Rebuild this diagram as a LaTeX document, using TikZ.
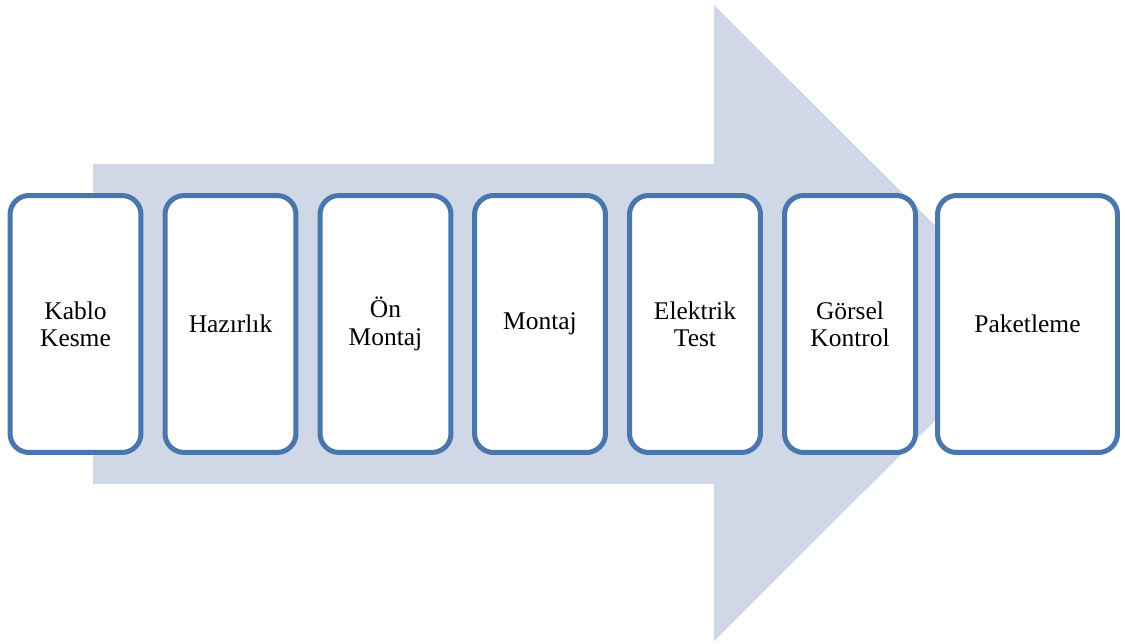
\documentclass[tikz,border=0pt]{standalone}
\usepackage{fontspec}
\setmainfont{Liberation Serif}
\definecolor{stepline}{RGB}{74,118,174}
\definecolor{arrowfill}{RGB}{208,216,232}
\begin{document}
\begin{tikzpicture}[x=0.02cm,y=-0.02cm,
  stepbox/.style={draw=stepline, line width=0.1cm, fill=white,
    rounded corners=0.38cm, minimum width=2.62cm, minimum height=5.14cm,
    inner sep=0pt, align=center,
    font=\fontsize{14.5pt}{15.5pt}\selectfont},
  widebox/.style={stepbox, minimum width=3.6cm}]
\useasboundingbox (0,0) rectangle (1125,643);
% big background arrow
\fill[arrowfill] (93,164) -- (714,164) -- (714,5) -- (1033,323)
  -- (714,641) -- (714,484) -- (93,484) -- cycle;
% process steps
\node[stepbox] (s1) at (75.5,324) {Kablo\\Kesme};
\node[stepbox] (s2) at (230.5,324) {Hazırlık};
\node[stepbox] (s3) at (385.5,324) {Ön\\Montaj};
\node[stepbox] (s4) at (540,324) {Montaj};
\node[stepbox] (s5) at (695,324) {Elektrik\\Test};
\node[stepbox] (s6) at (850,324) {Görsel\\Kontrol};
\node[widebox] (s7) at (1027.5,324) {Paketleme};
\end{tikzpicture}
\end{document}
